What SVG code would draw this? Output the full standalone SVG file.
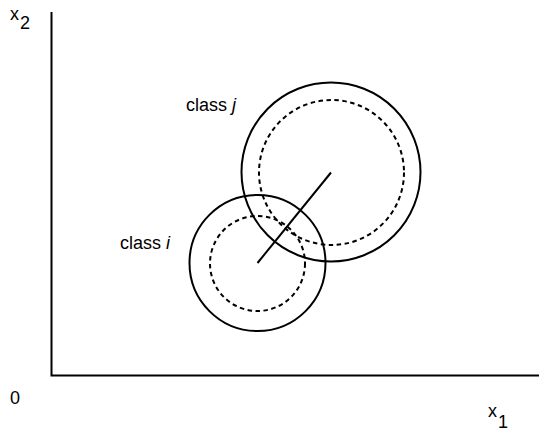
<svg xmlns="http://www.w3.org/2000/svg" width="539" height="434" viewBox="0 0 539 434">
<style>
.t{font-family:"Liberation Sans",Arial,sans-serif;font-size:18px;fill:#000}
.s{fill:none;stroke:#000;stroke-width:2}
.d{fill:none;stroke:#000;stroke-width:2;stroke-dasharray:4.5,3.5}
</style>
<rect width="539" height="434" fill="#fff"/>
<g id="axes">
<path class="s" d="M51.5,12 V375.5 H539"/>
<text class="t" x="10" y="20">x</text><text class="t" x="20" y="29" font-size="17">2</text>
<text class="t" x="488" y="417">x</text><text class="t" x="498" y="428" font-size="17">1</text>
<text class="t" x="10" y="404">0</text>
</g>
<g id="class-j">
<circle class="s" cx="331" cy="172" r="89.5"/>
<circle class="d" cx="331.5" cy="172.5" r="72.5"/>
<text class="t" x="186" y="111">class <tspan font-style="italic">j</tspan></text>
</g>
<g id="class-i">
<circle class="s" cx="257.5" cy="263" r="68"/>
<circle class="d" cx="257.5" cy="263.5" r="47.5"/>
<text class="t" x="120" y="249">class <tspan font-style="italic">i</tspan></text>
</g>
<g id="connectors">
<line class="s" x1="257.5" y1="263" x2="331" y2="172.5"/>
</g>
</svg>
